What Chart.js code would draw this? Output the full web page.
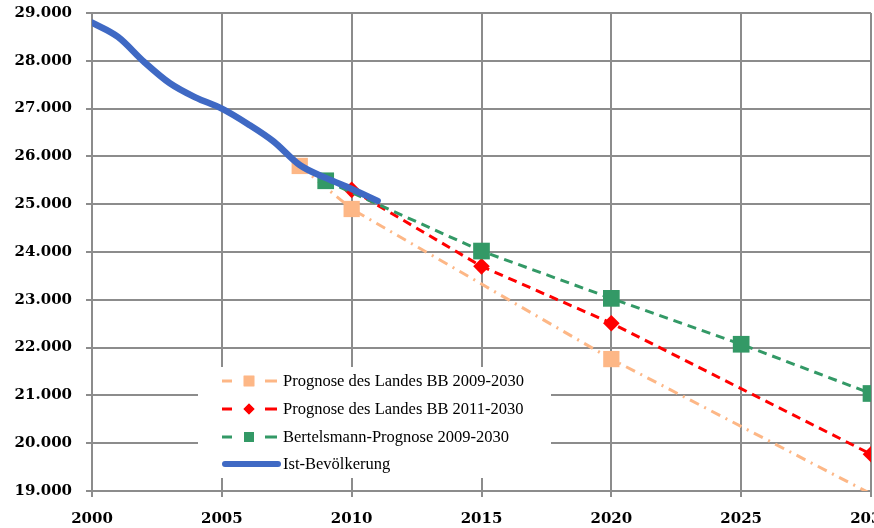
<!DOCTYPE html>
<html>
<head>
<meta charset="utf-8">
<script src="https://cdn.jsdelivr.net/npm/chart.js@4.4.1/dist/chart.umd.min.js"></script>
<style>
  html, body { margin: 0; padding: 0; background: #fff; overflow: hidden; }
  #wrap { position: absolute; left: 0; top: 0; width: 900px; height: 528px; }
</style>
</head>
<body>
<div id="wrap"><canvas id="grafico"></canvas></div>
<script>
// Daten
const jahreIst = [2000, 2001, 2002, 2003, 2004, 2005, 2006, 2007, 2008, 2009, 2010, 2011];
const werteIst = [28800, 28500, 27980, 27530, 27230, 27000, 26680, 26310, 25820, 25550, 25320, 25070];

const jahreBB2009 = [2008, 2010, 2020, 2030];
const werteBB2009 = [25800, 24900, 21760, 18940];

const jahreBB2011 = [2010, 2015, 2020, 2030];
const werteBB2011 = [25300, 23700, 22510, 19770];

const jahreBertelsmann = [2009, 2015, 2020, 2025, 2030];
const werteBertelsmann = [25490, 24020, 23030, 22070, 21040];

const legendeTexte = [
    'Prognose des Landes BB 2009-2030',
    'Prognose des Landes BB 2011-2030',
    'Bertelsmann-Prognose 2009-2030',
    'Ist-Bevölkerung'
];

const Y_MIN = 19000, Y_MAX = 29000;

function punkte(jahre, werte) {
    return jahre.map((j, i) => ({ x: j, y: werte[i] }));
}

function formatTausend(v) {
    return String(v).replace(/\B(?=(\d{3})+(?!\d))/g, '.');
}

const farbeOrange = '#FDB786';
const farbeRot = '#FF0000';
const farbeGruen = '#339966';
const farbeBlau = '#3F69C4';

const schriftAchse = { family: '"DejaVu Serif", serif', size: 15, weight: 'bold' };

// Legende als Kasten im Diagramm
const legendePlugin = {
    id: 'legendeBox',
    afterDraw(chart) {
        const ctx = chart.ctx;
        ctx.save();
        ctx.fillStyle = '#fff';
        ctx.fillRect(198, 367, 353, 111);
        const eintraege = [
            { farbe: farbeOrange, marker: 'rect', r: 7.5 },
            { farbe: farbeRot, marker: 'rectRot', r: 5.5 },
            { farbe: farbeGruen, marker: 'rect', r: 7 },
            { farbe: farbeBlau, marker: null }
        ];
        const zeilen = [381, 409, 437, 464];
        eintraege.forEach((e, i) => {
            const y = zeilen[i];
            ctx.strokeStyle = e.farbe;
            ctx.beginPath();
            if (e.marker) {
                ctx.lineWidth = 3;
                ctx.lineCap = 'butt';
                ctx.moveTo(222, y); ctx.lineTo(232, y);
                ctx.moveTo(265, y); ctx.lineTo(277, y);
            } else {
                ctx.lineWidth = 6;
                ctx.lineCap = 'round';
                ctx.moveTo(225, y); ctx.lineTo(278, y);
            }
            ctx.stroke();
            if (e.marker) {
                ctx.fillStyle = e.farbe;
                Chart.helpers.drawPoint(ctx, { pointStyle: e.marker, radius: e.r, borderWidth: 0 }, 249, y);
                ctx.fill();
            }
            ctx.fillStyle = '#000';
            ctx.font = '16.5px "Liberation Serif", serif';
            ctx.textBaseline = 'middle';
            ctx.fillText(legendeTexte[i], 283, y + 1);
        });
        ctx.restore();
    }
};

function versteckeUnterhalb(ctx, r) {
    const v = ctx.raw ? ctx.raw.y : null;
    return v !== null && v < Y_MIN ? 0 : r;
}

new Chart(document.getElementById('grafico'), {
    type: 'line',
    data: {
        datasets: [
            {
                label: legendeTexte[0],
                data: punkte(jahreBB2009, werteBB2009),
                borderColor: farbeOrange,
                backgroundColor: farbeOrange,
                borderWidth: 3,
                borderDash: [10, 6, 2, 6],
                pointStyle: 'rect',
                pointRadius: c => versteckeUnterhalb(c, 11.5),
                pointBorderWidth: 0,
                clip: 0,
                order: 3
            },
            {
                label: legendeTexte[1],
                data: punkte(jahreBB2011, werteBB2011),
                borderColor: farbeRot,
                backgroundColor: farbeRot,
                borderWidth: 3,
                borderDash: [9, 6],
                pointStyle: 'rectRot',
                pointRadius: 8.3,
                pointBorderWidth: 0,
                order: 2
            },
            {
                label: legendeTexte[2],
                data: punkte(jahreBertelsmann, werteBertelsmann),
                borderColor: farbeGruen,
                backgroundColor: farbeGruen,
                borderWidth: 3,
                borderDash: [9, 6],
                pointStyle: 'rect',
                pointRadius: 11.8,
                pointBorderWidth: 0,
                order: 1
            },
            {
                label: legendeTexte[3],
                data: punkte(jahreIst, werteIst),
                borderColor: farbeBlau,
                borderWidth: 6.5,
                borderCapStyle: 'round',
                tension: 0.4,
                cubicInterpolationMode: 'monotone',
                pointRadius: 0,
                order: 0
            }
        ]
    },
    plugins: [legendePlugin],
    options: {
        responsive: true,
        maintainAspectRatio: false,
        animation: false,
        layout: { padding: { left: 0, right: 29, top: 13, bottom: 0 } },
        plugins: {
            legend: { display: false },
            tooltip: { enabled: false }
        },
        scales: {
            x: {
                type: 'linear',
                min: 2000,
                max: 2030,
                ticks: {
                    stepSize: 5,
                    color: '#000',
                    padding: 13,
                    font: schriftAchse,
                    callback: v => String(v)
                },
                grid: { color: '#8C8C8C', lineWidth: 2, tickLength: 6 },
                border: { color: '#8C8C8C', width: 2 },
                afterFit: s => {
                    s.height = 37;
                    s.paddingLeft = 0;
                    s.paddingRight = 0;
                }
            },
            y: {
                min: Y_MIN,
                max: Y_MAX,
                ticks: {
                    stepSize: 1000,
                    color: '#000',
                    padding: 14,
                    font: schriftAchse,
                    callback: v => formatTausend(v)
                },
                grid: { color: '#8C8C8C', lineWidth: 2, tickLength: 6 },
                border: { color: '#8C8C8C', width: 2 },
                afterFit: s => {
                    s.width = 92;
                    s.paddingTop = 0;
                    s.paddingBottom = 0;
                }
            }
        }
    }
});
</script>
</body>
</html>
